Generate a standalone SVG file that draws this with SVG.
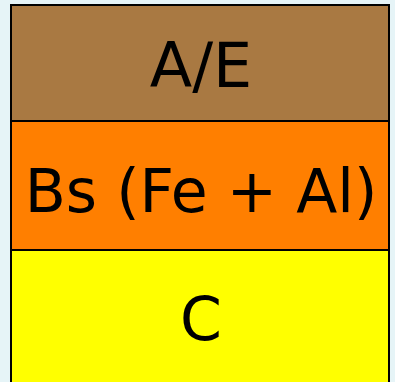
<svg xmlns="http://www.w3.org/2000/svg" width="395" height="382" viewBox="0 0 395 382">
<style>
.layer{stroke:#000;stroke-width:2}
.lbl{font-family:"DejaVu Sans",sans-serif;font-size:60px;fill:#000;text-anchor:middle}
</style>
<rect x="0" y="0" width="395" height="382" fill="#e6f4f7"/>
<g id="layer-AE">
<rect class="layer" x="11" y="5" width="378" height="116" fill="#a97942"/>
<text class="lbl" x="201" y="87" style="font-size:62px">A/E</text>
</g>
<g id="layer-Bs">
<rect class="layer" x="11" y="121" width="378" height="129" fill="#ff7f00"/>
<text class="lbl" x="201" y="212">Bs (Fe + Al)</text>
</g>
<g id="layer-C">
<rect class="layer" x="11" y="250" width="378" height="140" fill="#ffff00"/>
<text class="lbl" x="201" y="340">C</text>
</g>
<g id="connectors"/>
</svg>
